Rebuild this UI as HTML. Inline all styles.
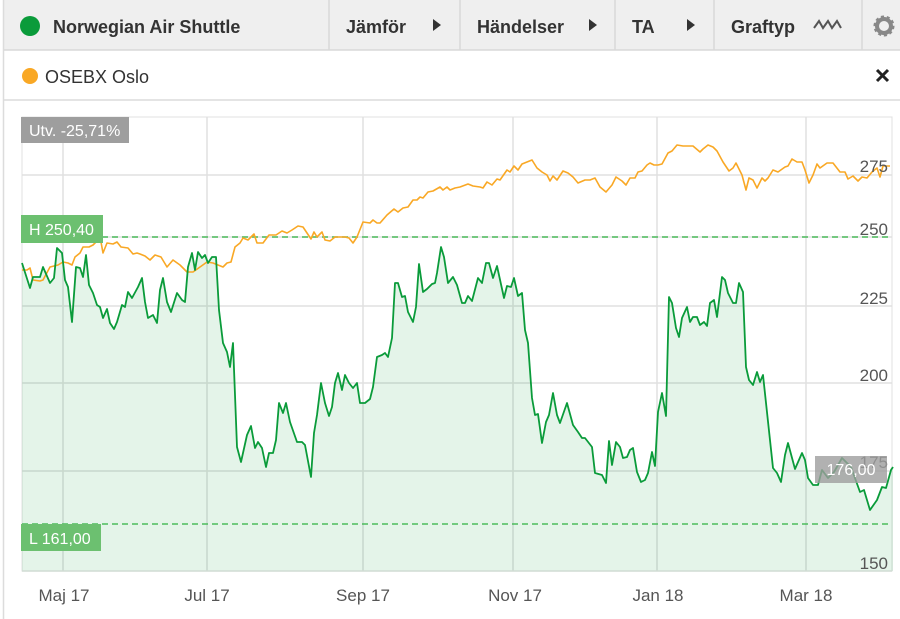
<!DOCTYPE html>
<html><head><meta charset="utf-8"><style>
html,body{margin:0;padding:0;background:#fff;width:900px;height:619px;overflow:hidden;font-family:"Liberation Sans",sans-serif}
</style></head><body>
<svg width="900" height="619" viewBox="0 0 900 619" xmlns="http://www.w3.org/2000/svg" font-family="Liberation Sans, sans-serif">
<rect x="0" y="0" width="900" height="619" fill="#fff"/>
<!-- header -->
<rect x="3" y="0" width="897" height="50" fill="#efefef"/>
<line x1="3" y1="50" x2="900" y2="50" stroke="#d8d8d8" stroke-width="1.5"/>
<line x1="3" y1="100" x2="900" y2="100" stroke="#dcdcdc" stroke-width="1.5"/>
<line x1="3.5" y1="0" x2="3.5" y2="619" stroke="#dcdcdc" stroke-width="1.5"/>
<g stroke="#d8d8d8" stroke-width="1.5">
<line x1="329" y1="0" x2="329" y2="50"/><line x1="460" y1="0" x2="460" y2="50"/>
<line x1="615" y1="0" x2="615" y2="50"/><line x1="714" y1="0" x2="714" y2="50"/>
<line x1="862" y1="0" x2="862" y2="50"/></g>
<circle cx="30" cy="26" r="10" fill="#0a9b3a"/>
<g font-size="18" font-weight="bold" fill="#333">
<text x="53" y="33">Norwegian Air Shuttle</text>
<text x="346" y="33">Jämför</text>
<text x="477" y="33">Händelser</text>
<text x="632" y="33">TA</text>
<text x="731" y="33">Graftyp</text></g>
<path d="M433 19 L441 25 L433 31 Z" fill="#333"/>
<path d="M589 19 L597 25 L589 31 Z" fill="#333"/>
<path d="M687 19 L695 25 L687 31 Z" fill="#333"/>
<path d="M814 28 L819 21 L823 28 L828 21 L832 28 L837 21 L841 28" fill="none" stroke="#555" stroke-width="2"/>
<circle cx="884" cy="26" r="7" fill="none" stroke="#888" stroke-width="4"/>
<circle cx="884" cy="26" r="9" fill="none" stroke="#888" stroke-width="3" stroke-dasharray="3 2.6"/>
<circle cx="30" cy="76" r="8" fill="#f9a825"/>
<text x="45" y="83" font-size="18" fill="#333">OSEBX Oslo</text>
<path d="M877 70 L888 81 M888 70 L877 81" stroke="#222" stroke-width="3"/>
<!-- plot area -->
<rect x="22" y="117" width="870" height="454" fill="#fff" stroke="#e0e0e0"/>
<g stroke="#e0e0e0" stroke-width="1.5">
<line x1="22" y1="175" x2="892" y2="175"/><line x1="22" y1="237" x2="892" y2="237"/>
<line x1="22" y1="306" x2="892" y2="306"/><line x1="22" y1="383" x2="892" y2="383"/>
<line x1="22" y1="471" x2="892" y2="471"/>
<line x1="63" y1="117" x2="63" y2="571"/><line x1="207" y1="117" x2="207" y2="571"/>
<line x1="363" y1="117" x2="363" y2="571"/><line x1="513" y1="117" x2="513" y2="571"/>
<line x1="657" y1="117" x2="657" y2="571"/><line x1="806" y1="117" x2="806" y2="571"/>
</g>
<polygon fill="#0a9b3a" fill-opacity="0.11" points="22,571 22,263 30,288 33,277 40,277 43,267 50,283 54,278 57,248 62,253 65,280 68,287 72,322 76,267 80,268 83,277 86,255 89,285 93,293 97,305 100,307 103,318 107,309 110,323 114,329 117,322 122,305 125,307 128,292 132,298 138,287 142,278 145,302 148,318 153,315 157,323 160,290 163,278 167,302 171,312 177,293 182,300 185,302 188,267 192,253 195,270 198,252 202,258 205,255 208,263 212,257 216,257 219,310 223,343 227,352 230,367 233,343 237,447 241,462 247,435 251,426 255,448 258,442 262,448 266,467 269,453 273,453 276,440 279,403 283,413 286,403 290,422 297,442 302,442 305,445 311,477 314,433 317,415 321,383 325,403 329,416 332,407 335,383 338,373 342,390 345,375 349,383 353,388 357,383 360,403 365,403 370,399 373,387 377,357 382,355 385,353 388,357 392,338 395,283 398,283 402,297 405,296 408,312 413,322 416,307 419,264 423,292 427,289 432,284 435,283 437,273 441,247 444,257 448,283 453,277 457,285 462,303 465,303 468,296 472,301 478,278 482,283 486,263 489,263 493,278 497,266 504,298 507,286 511,287 514,278 518,296 522,293 525,330 528,343 532,398 535,415 538,414 542,443 546,422 549,415 553,393 557,415 560,423 567,403 573,425 578,432 582,438 585,438 592,447 595,473 602,475 606,483 609,441 612,465 616,442 620,447 623,458 627,457 630,450 633,448 637,472 641,482 645,480 648,473 652,452 655,466 658,412 662,393 666,416 669,297 672,303 676,328 679,337 682,318 687,307 690,322 693,317 697,317 700,325 704,322 707,326 710,303 714,300 717,317 722,277 725,280 728,293 733,303 736,303 739,283 743,292 746,367 749,380 753,385 757,372 760,382 763,375 773,468 777,473 781,482 785,455 788,443 795,469 802,453 805,460 808,478 813,485 818,485 822,470 828,478 834,472 842,458 851,467 860,492 864,490 870,510 877,500 882,487 886,488 891,470 893,467 893,571"/>
<line x1="22" y1="237" x2="892" y2="237" stroke="#4cbb5c" stroke-width="1.5" stroke-dasharray="6 4"/>
<line x1="22" y1="524" x2="892" y2="524" stroke="#4cbb5c" stroke-width="1.5" stroke-dasharray="6 4"/>
<polyline fill="none" stroke="#f9a825" stroke-width="1.6" stroke-linejoin="round" points="22,270 27,270 30,268 33,280 40,281 43,280 50,267 58,265 63,262 68,263 72,265 75,257 80,253 83,247 89,247 93,245 98,240 101,242 103,253 107,243 113,244 117,242 121,247 128,248 133,254 137,253 140,254 145,256 150,260 155,255 161,257 167,267 173,260 180,265 187,272 193,272 200,267 207,262 213,263 223,267 227,263 231,262 235,247 240,243 243,238 248,240 254,234 257,243 263,243 269,235 276,235 282,231 287,233 292,230 298,226 303,227 311,239 314,232 317,237 322,232 325,240 330,241 335,237 345,237 349,238 353,243 357,237 363,222 370,223 373,220 377,223 380,223 387,215 394,209 398,212 403,208 408,207 413,200 417,200 420,197 423,198 428,192 433,191 440,187 443,190 447,187 450,190 455,188 460,187 468,184 473,186 480,187 483,188 487,182 492,185 497,179 500,180 507,170 510,172 514,166 518,170 522,164 532,160 537,168 542,172 547,175 550,181 553,176 557,180 563,171 568,173 573,177 578,183 585,180 590,180 595,178 600,187 606,192 612,185 616,177 622,181 626,185 630,178 635,178 638,172 642,171 647,165 650,163 654,165 658,165 662,164 668,153 672,151 677,145 683,146 693,146 700,152 703,149 708,145 713,147 717,151 723,162 729,171 733,168 736,163 742,175 746,190 749,178 753,180 757,188 762,178 765,181 768,178 773,170 778,172 785,167 788,166 792,159 797,162 802,162 805,170 809,183 813,175 817,164 820,168 827,163 833,163 840,172 845,172 848,179 853,176 858,181 862,177 867,178 872,172 877,168 880,177 883,166 890,166"/>
<polyline fill="none" stroke="#0a9b3a" stroke-width="1.8" stroke-linejoin="round" points="22,263 30,288 33,277 40,277 43,267 50,283 54,278 57,248 62,253 65,280 68,287 72,322 76,267 80,268 83,277 86,255 89,285 93,293 97,305 100,307 103,318 107,309 110,323 114,329 117,322 122,305 125,307 128,292 132,298 138,287 142,278 145,302 148,318 153,315 157,323 160,290 163,278 167,302 171,312 177,293 182,300 185,302 188,267 192,253 195,270 198,252 202,258 205,255 208,263 212,257 216,257 219,310 223,343 227,352 230,367 233,343 237,447 241,462 247,435 251,426 255,448 258,442 262,448 266,467 269,453 273,453 276,440 279,403 283,413 286,403 290,422 297,442 302,442 305,445 311,477 314,433 317,415 321,383 325,403 329,416 332,407 335,383 338,373 342,390 345,375 349,383 353,388 357,383 360,403 365,403 370,399 373,387 377,357 382,355 385,353 388,357 392,338 395,283 398,283 402,297 405,296 408,312 413,322 416,307 419,264 423,292 427,289 432,284 435,283 437,273 441,247 444,257 448,283 453,277 457,285 462,303 465,303 468,296 472,301 478,278 482,283 486,263 489,263 493,278 497,266 504,298 507,286 511,287 514,278 518,296 522,293 525,330 528,343 532,398 535,415 538,414 542,443 546,422 549,415 553,393 557,415 560,423 567,403 573,425 578,432 582,438 585,438 592,447 595,473 602,475 606,483 609,441 612,465 616,442 620,447 623,458 627,457 630,450 633,448 637,472 641,482 645,480 648,473 652,452 655,466 658,412 662,393 666,416 669,297 672,303 676,328 679,337 682,318 687,307 690,322 693,317 697,317 700,325 704,322 707,326 710,303 714,300 717,317 722,277 725,280 728,293 733,303 736,303 739,283 743,292 746,367 749,380 753,385 757,372 760,382 763,375 773,468 777,473 781,482 785,455 788,443 795,469 802,453 805,460 808,478 813,485 818,485 822,470 828,478 834,472 842,458 851,467 860,492 864,490 870,510 877,500 882,487 886,488 891,470 893,467"/>
<line x1="22" y1="571" x2="892" y2="571" stroke="#d0dcd4" stroke-width="1.5"/>
<!-- y labels -->
<g font-size="17" fill="#555" text-anchor="end">
<text x="888" y="172">275</text><text x="888" y="235">250</text>
<text x="888" y="304">225</text><text x="888" y="381">200</text>
<text x="888" y="468">175</text><text x="888" y="569">150</text></g>
<!-- tags -->
<rect x="21" y="117" width="108" height="26" fill="#9e9e9e"/>
<text x="29" y="136" font-size="16" fill="#fff">Utv. -25,71%</text>
<rect x="21" y="215" width="82" height="28" fill="#6cc070"/>
<text x="29" y="235" font-size="16" fill="#fff">H 250,40</text>
<rect x="21" y="524" width="80" height="27" fill="#6cc070"/>
<text x="29" y="544" font-size="16" fill="#fff">L 161,00</text>
<rect x="815" y="456" width="72" height="27" fill="#9e9e9e" fill-opacity="0.8"/>
<text x="851" y="475" font-size="16" fill="#fff" text-anchor="middle">176,00</text>
<!-- x labels -->
<g font-size="17" fill="#555" text-anchor="middle">
<text x="64" y="601">Maj 17</text><text x="207" y="601">Jul 17</text>
<text x="363" y="601">Sep 17</text><text x="515" y="601">Nov 17</text>
<text x="658" y="601">Jan 18</text><text x="806" y="601">Mar 18</text></g>
</svg>
</body></html>
